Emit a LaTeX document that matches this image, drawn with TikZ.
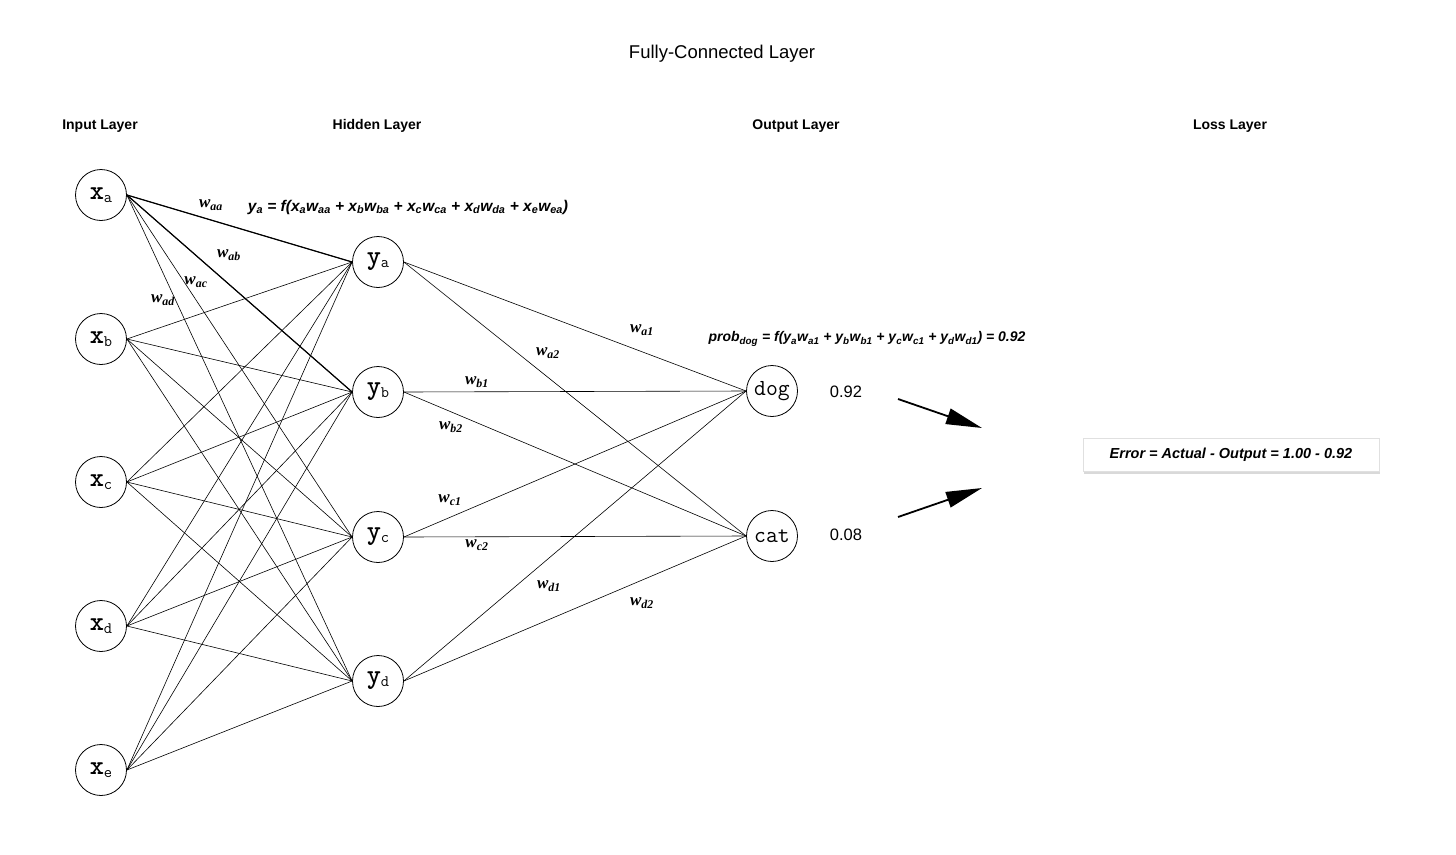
\documentclass[tikz,border=0pt]{standalone}
\usepackage{fontspec}
\setmainfont{Liberation Sans}
\newfontfamily\wfont{Liberation Serif}
\usetikzlibrary{arrows.meta,shadows}
\newcommand{\sbs}[1]{\textsubscript{#1}}
\newcommand{\wl}[1]{{\wfont\bfseries\itshape\fontsize{17}{17}\selectfont w\textsubscript{#1}}}
\newcommand{\nl}[2]{{\fontsize{27}{27}\selectfont\ttfamily\bfseries #1\raisebox{-0.25ex}{\fontsize{16}{16}\selectfont\mdseries #2}}}
\begin{document}
\begin{tikzpicture}[x=1pt,y=-1pt,
  neuron/.style={circle,draw,line width=0.8pt,minimum size=51pt,inner sep=0pt},
  conn/.style={line width=0.6pt},
  bconn/.style={line width=1.2pt},
  layerlbl/.style={font=\bfseries\fontsize{14}{14}\selectfont},
  wlab/.style={inner sep=1pt},
  formula/.style={font=\bfseries\itshape\fontsize{15.5}{15.5}\selectfont},
  numlbl/.style={font=\fontsize{16.5}{16.5}\selectfont},
  bigarrow/.style={line width=1.8pt,-{Triangle[length=36pt,width=16pt]}}]
\useasboundingbox (0,0) rectangle (1456,854);
\node (title) at (722,54) {\fontsize{18.5}{18.5}\selectfont Fully-Connected Layer};
\node[layerlbl] (linput) at (100,126) {Input Layer};
\node[layerlbl] (lhidden) at (377,126) {Hidden Layer};
\node[layerlbl] (loutput) at (796,126) {Output Layer};
\node[layerlbl] (lloss) at (1230,126) {Loss Layer};

\node[neuron] (xa) at (101,195) {\nl{x}{a}};
\node[neuron] (xb) at (101,339) {\nl{x}{b}};
\node[neuron] (xc) at (101,482) {\nl{x}{c}};
\node[neuron] (xd) at (101,626) {\nl{x}{d}};
\node[neuron] (xe) at (101,770) {\nl{x}{e}};
\node[neuron] (ya) at (378,262) {\nl{y}{a}};
\node[neuron] (yb) at (378,392) {\nl{y}{b}};
\node[neuron] (yc) at (378,537) {\nl{y}{c}};
\node[neuron] (yd) at (378,681) {\nl{y}{d}};
\node[neuron] (dog) at (772,391) {{\fontsize{23}{23}\selectfont\ttfamily dog}};
\node[neuron] (cat) at (772,536) {{\fontsize{23}{23}\selectfont\ttfamily cat}};

\foreach \i in {xa,xb,xc,xd,xe}{
  \foreach \j in {ya,yb,yc,yd}{
    \draw[conn] (\i.east) -- (\j.west);
  }
}
\draw[bconn] (xa.east) -- (ya.west);
\draw[bconn] (xa.east) -- (yb.west);
\foreach \i in {ya,yb,yc,yd}{
  \foreach \j in {dog,cat}{
    \draw[conn] (\i.east) -- (\j.west);
  }
}

\node[wlab] (waa) at (211,205) {\wl{aa}};
\node[wlab] (wab) at (229,255) {\wl{ab}};
\node[wlab] (wac) at (196,282) {\wl{ac}};
\node[wlab] (wad) at (163,300) {\wl{ad}};
\node[wlab] (wa1) at (642,330) {\wl{a1}};
\node[wlab] (wa2) at (548,353) {\wl{a2}};
\node[wlab] (wb1) at (477,382) {\wl{b1}};
\node[wlab] (wb2) at (451,427) {\wl{b2}};
\node[wlab] (wc1) at (450,500) {\wl{c1}};
\node[wlab] (wc2) at (477,545) {\wl{c2}};
\node[wlab] (wd1) at (549,586) {\wl{d1}};
\node[wlab] (wd2) at (642,603) {\wl{d2}};

\node[formula] (fya) at (408,207) {y\sbs{a} = f(x\sbs{a}w\sbs{aa} + x\sbs{b}w\sbs{ba} + x\sbs{c}w\sbs{ca} + x\sbs{d}w\sbs{da} + x\sbs{e}w\sbs{ea})};
\node[formula,font=\bfseries\itshape\fontsize{14}{14}\selectfont] (fprob) at (867,339) {prob\sbs{dog} = f(y\sbs{a}w\sbs{a1} + y\sbs{b}w\sbs{b1} + y\sbs{c}w\sbs{c1} + y\sbs{d}w\sbs{d1}) = 0.92};

\node[numlbl] (pdog) at (846,392) {0.92};
\node[numlbl] (pcat) at (846,535) {0.08};

\coordinate (a1s) at (898,399);
\coordinate (a1e) at (982,428);
\coordinate (a2s) at (898,517);
\coordinate (a2e) at (982,488);
\draw[bigarrow] (a1s) -- (a1e);
\draw[bigarrow] (a2s) -- (a2e);

\node[draw=black!12,fill=white,line width=0.6pt,minimum width=296pt,minimum height=33pt,
  drop shadow={shadow xshift=1pt,shadow yshift=-2pt,opacity=0.3},
  font=\bfseries\itshape\fontsize{14.5}{14.5}\selectfont] (err) at (1231,455)
  {Error = Actual - Output = 1.00 - 0.92};
\end{tikzpicture}
\end{document}
